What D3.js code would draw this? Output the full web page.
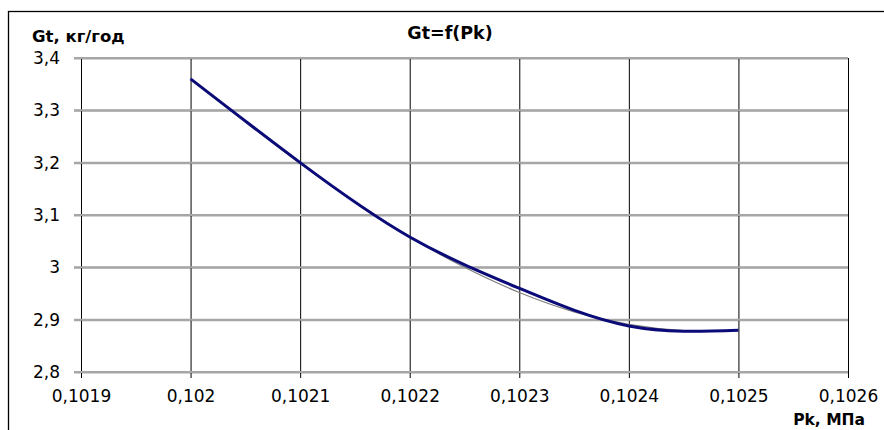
<!DOCTYPE html>
<html>
<head>
<meta charset="utf-8">
<script src="https://cdn.jsdelivr.net/npm/d3@7"></script>
<style>
  body { margin: 0; background: #fff; }
  text { font-family: Verdana, "DejaVu Sans", sans-serif; fill: #000; }
</style>
</head>
<body>
<script>
// chart values
var pk = [0.1020, 0.1021, 0.1022, 0.1023, 0.1024, 0.1025];
var gt = [3.36, 3.20, 3.058, 2.96, 2.888, 2.880];

// thin grey trend curve
var pkTrend = [0.1020, 0.10205, 0.1021, 0.10215, 0.1022, 0.10225, 0.1023, 0.10235, 0.1024, 0.10245, 0.1025];
var gtTrend = [3.36, 3.278, 3.199, 3.126, 3.058, 3.000, 2.952, 2.915, 2.891, 2.879, 2.879];

var xTicks = [0.1019, 0.1020, 0.1021, 0.1022, 0.1023, 0.1024, 0.1025, 0.1026];
var yTicks = [2.8, 2.9, 3.0, 3.1, 3.2, 3.3, 3.4];

var svgWidth = 884;
var svgHeight = 430;

var plot = { left: 81, top: 58, right: 848, bottom: 372 };

var svg = d3.select("body")
  .append("svg")
  .attr("width", svgWidth)
  .attr("height", svgHeight);

// outer chart border
svg.append("rect")
  .attr("x", 8.5)
  .attr("y", 11.5)
  .attr("width", 900)
  .attr("height", 440)
  .attr("fill", "none")
  .attr("stroke", "#000")
  .attr("stroke-width", 1.3);

var x = d3.scaleLinear()
  .domain([0.1019, 0.1026])
  .range([plot.left, plot.right]);

var y = d3.scaleLinear()
  .domain([2.8, 3.4])
  .range([plot.bottom, plot.top]);

var comma = function(d) {
  return (+d.toFixed(4)).toString().replace(".", ",");
};

// horizontal grid + y labels
var yAxis = d3.axisLeft(y)
  .tickValues(yTicks)
  .tickSize(-(plot.right - plot.left + 7))
  .tickPadding(14)
  .tickFormat(comma);

var gy = svg.append("g")
  .attr("transform", `translate(${plot.left - 7}, 0)`)
  .call(yAxis);
gy.select(".domain").remove();
gy.selectAll("line").attr("stroke", "#a6a6a6").attr("stroke-width", 2);
gy.selectAll("text").style("font-size", "17px").attr("x", -14);

// vertical grid + x labels
var xAxis = d3.axisBottom(x)
  .tickValues(xTicks)
  .tickSize(-(plot.bottom - plot.top + 6))
  .tickPadding(12)
  .tickFormat(comma);

var gx = svg.append("g")
  .attr("transform", `translate(0, ${plot.bottom + 6})`)
  .call(xAxis);
gx.select(".domain").remove();
gx.selectAll("line").attr("stroke", "#000").attr("stroke-width", 1);
gx.selectAll("text").style("font-size", "17px");

// redraw horizontal grid on top of vertical lines
svg.append("g")
  .selectAll("line")
  .data(yTicks)
  .enter()
  .append("line")
  .attr("x1", plot.left - 7)
  .attr("x2", plot.right)
  .attr("y1", d => y(d))
  .attr("y2", d => y(d))
  .attr("stroke", "#a6a6a6")
  .attr("stroke-width", 2);

// grey trend line
var trendData = pkTrend.map((p, i) => ({ p: p, g: gtTrend[i] }));
svg.append("path")
  .datum(trendData)
  .attr("fill", "none")
  .attr("stroke", "#7f7f7f")
  .attr("stroke-width", 1.2)
  .attr("d", d3.line()
    .x(d => x(d.p))
    .y(d => y(d.g))
    .curve(d3.curveCatmullRom));

// main series, smoothed
var data = pk.map((p, i) => ({ p: p, g: gt[i] }));
svg.append("path")
  .datum(data)
  .attr("fill", "none")
  .attr("stroke", "#0a0a78")
  .attr("stroke-width", 3)
  .attr("d", d3.line()
    .x(d => x(d.p))
    .y(d => y(d.g))
    .curve(d3.curveNatural));

// titles
svg.append("text")
  .attr("x", 450)
  .attr("y", 39)
  .attr("text-anchor", "middle")
  .style("font-size", "17.5px")
  .style("font-weight", "bold")
  .text("Gt=f(Pk)");

svg.append("text")
  .attr("x", 32)
  .attr("y", 42)
  .style("font-size", "16.5px")
  .style("font-weight", "bold")
  .text("Gt, кг/год");

svg.append("text")
  .attr("x", 865)
  .attr("y", 425)
  .attr("text-anchor", "end")
  .style("font-size", "15.5px")
  .style("font-weight", "bold")
  .text("Pk, МПа");
</script>
</body>
</html>
